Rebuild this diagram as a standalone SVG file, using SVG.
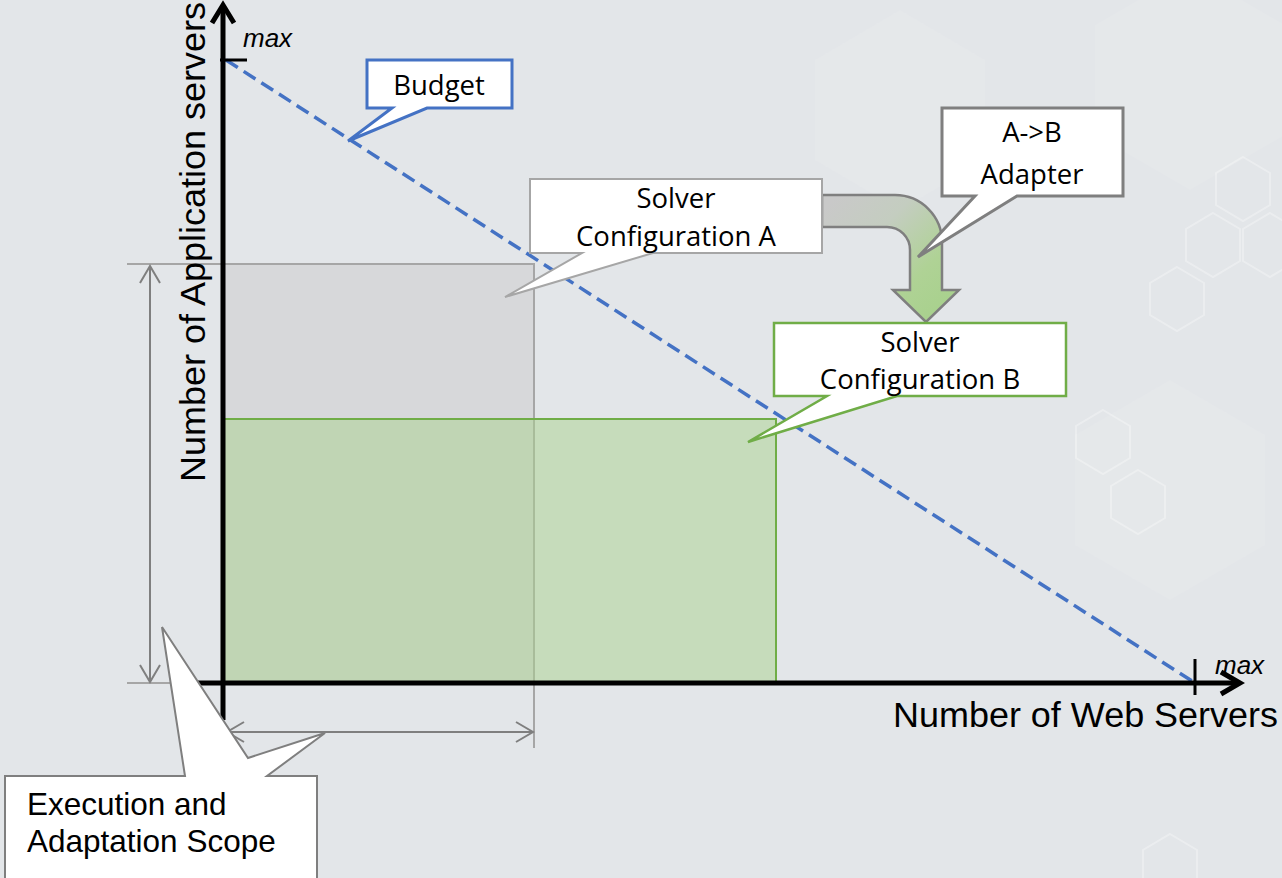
<svg xmlns="http://www.w3.org/2000/svg" width="1282" height="878" viewBox="0 0 1282 878">
  <style>
    .callout-text { font-family: "Open Sans", "Noto Sans", sans-serif; font-size: 27.5px; fill: #000; text-anchor: middle; }
    .axis-label { font-family: "Liberation Sans", Arial, sans-serif; font-size: 35px; fill: #000; }
    .max { font-family: "Liberation Sans", Arial, sans-serif; font-size: 26px; font-style: italic; fill: #000; }
    .scope-text { font-family: "Liberation Sans", Arial, sans-serif; font-size: 31.5px; fill: #000; }
    .axis { stroke: #000; stroke-width: 5; fill: none; }
    .tick { stroke: #000; stroke-width: 3; fill: none; }
    .dim { stroke: #7F7F7F; stroke-width: 2; fill: none; }
    .ext { stroke: #A6A6A6; stroke-width: 2; fill: none; }
    .hex { fill: none; stroke: #FFFFFF; stroke-opacity: 0.3; stroke-width: 2; }
    .hex-soft { fill: #FFFFFF; fill-opacity: 0.08; stroke: none; }
  </style>
  <defs>
    <linearGradient id="adapterFill" x1="822" y1="211" x2="926" y2="320" gradientUnits="userSpaceOnUse">
      <stop offset="0" stop-color="#C9C9C9"/>
      <stop offset="0.35" stop-color="#C4CDC0"/>
      <stop offset="0.75" stop-color="#AFD295"/>
      <stop offset="1" stop-color="#A9D18E"/>
    </linearGradient>
  </defs>

  <!-- backdrop -->
  <rect x="0" y="0" width="1282" height="878" fill="#E3E6E9"/>
  <g id="backdrop-hexagons">
    <polygon class="hex-soft" points="1170,380 1265,435 1265,545 1170,600 1075,545 1075,435"/>
    <polygon class="hex-soft" points="1190,-30 1285,25 1285,135 1190,190 1095,135 1095,25"/>
    <polygon class="hex-soft" points="900,10 985,60 985,160 900,210 815,160 815,60"/>
    <polygon class="hex" points="1103,410 1130,426 1130,458 1103,474 1076,458 1076,426"/>
    <polygon class="hex" points="1138,470 1165,486 1165,518 1138,534 1111,518 1111,486"/>
    <polygon class="hex" points="1243,157 1270,173 1270,205 1243,221 1216,205 1216,173"/>
    <polygon class="hex" points="1213,213 1240,229 1240,261 1213,277 1186,261 1186,229"/>
    <polygon class="hex" points="1270,213 1297,229 1297,261 1270,277 1243,261 1243,229"/>
    <polygon class="hex" points="1177,267 1204,283 1204,315 1177,331 1150,315 1150,283"/>
    <polygon class="hex" points="1170,834 1197,850 1197,882 1170,898 1143,882 1143,850"/>
  </g>

  <!-- solution regions -->
  <g id="region-a">
    <rect x="222" y="264" width="312" height="419" fill="#D7D8DA" stroke="#A6A6A6" stroke-width="2"/>
  </g>
  <g id="region-b">
    <rect x="222" y="419" width="554" height="264" fill="#A9D18E" fill-opacity="0.5" stroke="#70AD47" stroke-width="2"/>
  </g>

  <g id="connectors">
    <!-- budget constraint -->
    <line x1="226" y1="60" x2="1195" y2="683" stroke="#4472C4" stroke-width="3.5" stroke-dasharray="14 7"/>

    <!-- extension lines -->
    <line class="ext" x1="127" y1="264" x2="222" y2="264"/>
    <line class="ext" x1="127" y1="683" x2="222" y2="683"/>
    <line class="ext" x1="534" y1="683" x2="534" y2="748"/>

    <!-- dimension arrows -->
    <line class="dim" x1="150" y1="266" x2="150" y2="682"/>
    <polyline class="dim" points="140,283 150,266 160,283"/>
    <polyline class="dim" points="140,665 150,682 160,665"/>
    <line class="dim" x1="227" y1="732" x2="533" y2="732"/>
    <polyline class="dim" points="244,722 227,732 244,742"/>
    <polyline class="dim" points="516,722 533,732 516,742"/>

    <!-- axes -->
    <line class="axis" x1="223" y1="720" x2="223" y2="6"/>
    <polyline class="axis" points="212,23 223,5 234,23"/>
    <line class="axis" x1="198" y1="683" x2="1238" y2="683"/>
    <polyline class="axis" points="1221,672 1240,683 1221,694"/>
    <line class="tick" x1="220" y1="60" x2="247" y2="60"/>
    <line class="tick" x1="1195" y1="659" x2="1195" y2="695"/>

    <!-- A to B adaptation arrow -->
    <path d="M822,195 H895 A47,47 0 0 1 942,242 V290 H959 L926,322 L893,290 H910 V250 A23,23 0 0 0 887,227 H822 Z"
          fill="url(#adapterFill)" stroke="#7F7F7F" stroke-width="2.5" stroke-linejoin="miter"/>
  </g>

  <!-- axis labels -->
  <text class="max" x="243" y="47">max</text>
  <text class="max" x="1215" y="674">max</text>
  <text class="axis-label" x="893" y="727" textLength="385" lengthAdjust="spacingAndGlyphs">Number of Web Servers</text>
  <text class="axis-label" transform="translate(205,482) rotate(-90)" textLength="480" lengthAdjust="spacingAndGlyphs">Number of Application servers</text>

  <g id="budget">
    <path d="M367,60 H512 V108 H427 L348,141 L392,108 H367 Z" fill="#FFFFFF" stroke="#4472C4" stroke-width="3"/>
    <text class="callout-text" x="439" y="95" font-size="29">Budget</text>
  </g>

  <g id="solver-config-a">
    <path d="M530,179 H822 V253 H653 L505,297 L582,253 H530 Z" fill="#FFFFFF" stroke="#A6A6A6" stroke-width="2"/>
    <text class="callout-text" x="676" y="208">Solver</text>
    <text class="callout-text" x="676" y="246">Configuration A</text>
  </g>

  <g id="adapter">
    <path d="M942,108 H1123 V196 H1017 L918,257 L975,196 H942 Z" fill="#FFFFFF" stroke="#7F7F7F" stroke-width="3"/>
    <text class="callout-text" x="1032" y="142">A-&gt;B</text>
    <text class="callout-text" x="1032" y="184">Adapter</text>
  </g>

  <g id="solver-config-b">
    <path d="M774,323 H1066 V396 H897 L748,442 L827,396 H774 Z" fill="#FFFFFF" stroke="#70AD47" stroke-width="2.5"/>
    <text class="callout-text" x="920" y="352">Solver</text>
    <text class="callout-text" x="920" y="389">Configuration B</text>
  </g>

  <g id="scope">
    <path d="M5,776 H185 L162,627 L248,758 L325,733 L267,776 H317 V892 H5 Z" fill="#FFFFFF" stroke="#7F7F7F" stroke-width="2"/>
    <text class="scope-text" x="27" y="815">Execution and</text>
    <text class="scope-text" x="27" y="852">Adaptation Scope</text>
  </g>
</svg>
